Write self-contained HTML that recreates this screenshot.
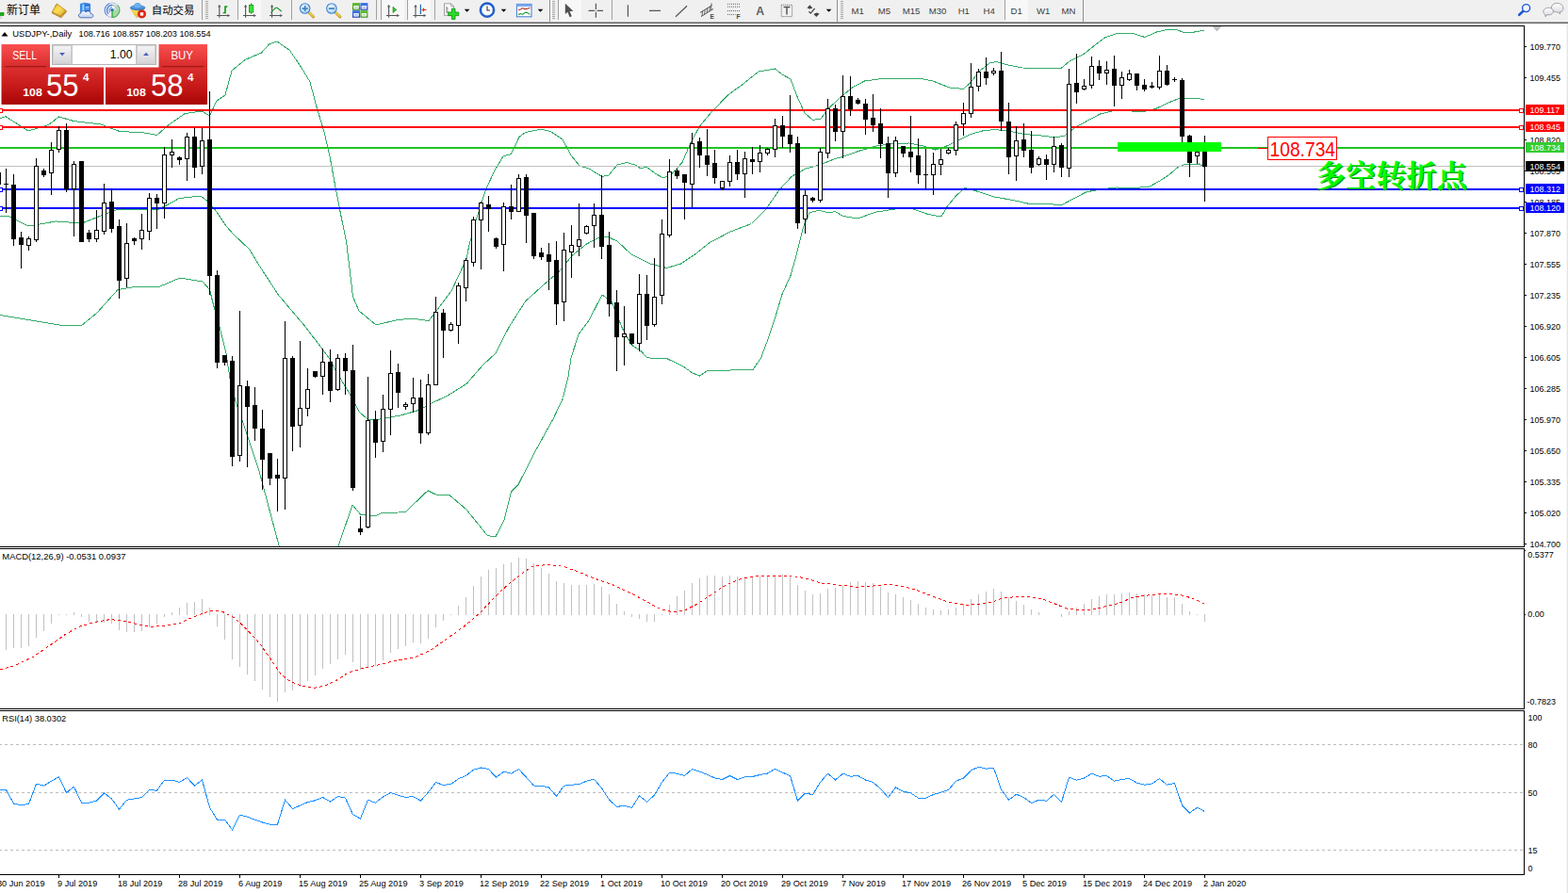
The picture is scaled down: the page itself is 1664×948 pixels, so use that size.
<!DOCTYPE html>
<html><head><meta charset="utf-8"><title>USDJPY Daily</title>
<style>
html,body{margin:0;padding:0;background:#fff;}
body{width:1664px;height:948px;overflow:hidden;position:relative;font-family:"Liberation Sans", sans-serif;}
svg{position:absolute;left:0;top:0;display:block;}
text{font-family:"Liberation Sans", sans-serif;}
.ax{font-size:9.4px;fill:#000;}
.lb{font-size:9.4px;fill:#fff;}
.tf{font-size:9.6px;fill:#3c3c3c;}
</style></head><body>
<svg width="1664" height="948" viewBox="0 0 1664 948">
<defs>
<linearGradient id="gbtn" x1="0" y1="0" x2="0" y2="1"><stop offset="0" stop-color="#fb5050"/><stop offset="1" stop-color="#d62a2a"/></linearGradient>
<linearGradient id="gpan" x1="0" y1="0" x2="0" y2="1"><stop offset="0" stop-color="#dc3030"/><stop offset="0.55" stop-color="#c41818"/><stop offset="1" stop-color="#a80404"/></linearGradient>
<linearGradient id="gsp" x1="0" y1="0" x2="0" y2="1"><stop offset="0" stop-color="#f4f4f4"/><stop offset="1" stop-color="#d4d4d8"/></linearGradient>
<clipPath id="cmain"><rect x="0" y="28" width="1617" height="552"/></clipPath>
<pattern id="chk" width="2" height="2" patternUnits="userSpaceOnUse"><rect width="2" height="2" fill="#f0f0f0"/><rect width="1" height="1" fill="#ffffff"/><rect x="1" y="1" width="1" height="1" fill="#ffffff"/></pattern>
</defs>
<rect x="0" y="0" width="1664" height="948" fill="#fff"/>
<g clip-path="url(#cmain)">
<polyline fill="none" shape-rendering="crispEdges" stroke="#32ab6a" stroke-width="1" points="0.0,125.7 6.0,123.7 30.0,139.0 51.5,132.6 62.5,124.0 79.0,128.7 107.0,132.0 127.0,139.6 151.0,140.6 166.6,143.5 178.5,133.0 196.0,120.7 213.0,118.0 216.0,119.0 222.5,123.0 230.0,107.0 239.0,101.0 246.0,75.0 260.0,63.5 277.5,56.0 286.0,46.5 294.0,44.0 307.5,53.5 320.0,72.0 329.0,87.0 336.0,113.5 344.0,140.0 350.0,166.0 356.0,199.0 362.5,232.0 367.5,256.0 371.0,285.0 374.5,315.0 381.0,330.0 399.0,345.0 420.0,340.0 436.0,338.0 455.0,340.5 462.5,331.0 479.0,309.0 495.0,275.0 497.5,262.0 505.0,234.0 516.0,200.0 525.0,181.0 534.0,166.0 542.5,163.5 551.0,145.5 557.5,140.5 575.0,137.0 585.0,140.0 597.0,148.0 606.0,165.0 615.0,176.0 625.0,179.0 639.0,187.5 646.0,186.0 655.0,175.0 665.0,172.5 674.0,175.0 680.0,179.0 686.0,177.0 695.0,184.0 704.0,189.0 712.5,185.0 724.0,172.5 732.5,152.5 742.5,134.0 755.0,119.0 772.5,101.0 787.5,90.0 805.0,76.0 822.5,73.0 830.0,79.0 839.0,84.0 846.0,102.5 854.0,120.0 862.5,127.5 871.0,126.0 880.0,114.5 890.0,105.0 905.0,92.5 917.5,86.0 932.5,84.0 955.0,83.0 975.0,83.0 990.0,86.0 1007.5,93.0 1022.5,94.5 1030.0,87.5 1040.0,75.0 1050.0,67.0 1057.5,65.5 1070.0,69.0 1085.0,72.0 1105.0,72.5 1126.0,72.5 1135.0,65.0 1150.0,57.5 1162.5,47.5 1172.5,40.0 1185.0,35.5 1202.5,35.5 1215.0,39.5 1227.5,34.0 1240.0,31.0 1247.5,31.0 1255.0,34.0 1267.5,34.0 1278.0,32.0"/>
<polyline fill="none" shape-rendering="crispEdges" stroke="#32ab6a" stroke-width="1" points="0.0,230.0 8.0,229.0 30.0,240.0 59.5,235.0 87.0,237.0 107.0,229.0 123.0,223.0 151.0,222.0 166.6,223.0 178.5,217.0 190.0,210.6 213.0,208.0 222.0,215.0 230.0,225.0 240.0,240.0 248.0,249.0 265.0,265.0 272.0,277.0 295.0,312.5 322.5,345.0 341.0,369.0 350.0,381.0 357.5,396.0 370.0,416.0 381.0,437.0 390.0,445.0 400.0,445.5 425.0,441.0 442.5,436.0 450.0,432.5 456.0,429.0 475.0,420.0 495.0,407.5 512.5,387.5 526.0,375.0 540.0,347.5 557.5,320.0 575.0,304.0 592.5,289.0 607.5,271.0 622.5,259.0 635.0,252.5 644.0,251.0 655.0,256.0 670.0,270.0 690.0,280.0 707.5,284.5 722.5,280.0 737.5,270.0 752.5,258.0 775.0,246.0 797.5,237.5 812.5,222.5 827.5,201.0 840.0,187.5 855.0,179.0 870.0,175.0 885.0,169.0 895.0,166.0 912.5,160.0 930.0,155.0 947.5,152.5 965.0,152.0 980.0,155.0 992.5,159.0 1002.5,156.0 1015.0,150.0 1030.0,142.5 1042.5,139.0 1055.0,137.5 1070.0,139.0 1087.5,142.5 1105.0,144.0 1120.0,146.0 1130.0,144.0 1140.0,136.0 1152.5,129.0 1167.5,121.0 1180.0,118.0 1195.0,117.5 1212.5,119.0 1227.5,115.0 1240.0,109.0 1250.0,105.0 1265.0,104.0 1278.0,105.5"/>
<polyline fill="none" shape-rendering="crispEdges" stroke="#32ab6a" stroke-width="1" points="0.0,334.5 62.5,345.0 86.0,346.0 102.5,332.5 125.0,307.5 140.0,305.0 170.0,304.0 191.0,295.0 215.0,299.0 222.5,307.5 227.5,327.5 234.0,351.0 240.0,375.0 244.0,402.0 250.0,426.0 262.5,462.5 275.0,500.0 296.0,579.0 310.0,640.0 345.0,640.0 359.0,580.0 374.0,536.0 382.5,546.0 397.5,548.0 405.0,544.5 430.0,543.8 454.0,520.8 462.5,525.0 477.5,526.0 495.0,541.0 517.5,568.8 526.0,569.5 535.0,552.5 542.5,522.0 550.0,514.5 567.5,480.0 587.5,443.8 597.5,422.5 603.0,400.0 606.0,380.0 614.0,355.0 625.0,340.0 639.0,313.0 649.0,320.0 660.0,347.5 670.0,366.0 680.0,372.5 686.0,379.0 694.0,381.0 707.5,380.5 725.0,389.0 735.0,396.0 742.5,399.0 750.0,394.0 775.0,393.0 799.0,392.5 807.5,380.0 815.0,360.0 822.5,337.5 830.0,312.5 839.0,292.5 846.0,267.5 852.5,241.0 859.0,226.0 869.0,223.0 879.0,226.0 886.0,224.5 895.0,229.5 910.0,232.0 930.0,225.0 950.0,222.0 967.5,221.5 985.0,227.5 999.0,230.0 1005.0,219.5 1015.0,207.5 1024.0,199.5 1035.0,202.5 1055.0,209.0 1075.0,212.5 1095.0,217.0 1110.0,216.0 1126.0,218.0 1140.0,210.5 1152.5,204.0 1167.5,201.0 1185.0,199.0 1205.0,199.5 1220.0,198.0 1230.0,192.5 1240.0,186.0 1250.0,177.5 1257.5,174.5 1265.0,175.0 1272.5,174.0 1278.0,177.5"/>
<g shape-rendering="crispEdges">
<rect x="0" y="176" width="1617" height="1" fill="#c0c0c0"/>
<rect x="0" y="116" width="1617" height="2" fill="#ff0000"/>
<rect x="0" y="134" width="1617" height="2" fill="#ff0000"/>
<rect x="0" y="156" width="1617" height="2" fill="#22c322"/>
<rect x="0" y="200" width="1617" height="2" fill="#0000ff"/>
<rect x="0" y="220" width="1617" height="2" fill="#0000ff"/>
</g>
<g shape-rendering="crispEdges">
<rect x="-4" y="183" width="5" height="13" fill="#000"/>
<rect x="6" y="179" width="1" height="47" fill="#000"/>
<rect x="4" y="195" width="5" height="1" fill="#000"/>
<rect x="14" y="185" width="1" height="76" fill="#000"/>
<rect x="12" y="196" width="5" height="58" fill="#000"/>
<rect x="22" y="246" width="1" height="39" fill="#000"/>
<rect x="20" y="252" width="5" height="8" fill="#000"/>
<rect x="30" y="251" width="1" height="15" fill="#000"/>
<rect x="28" y="253" width="5" height="8" fill="#000"/>
<rect x="29" y="254" width="3" height="6" fill="#fff"/>
<rect x="38" y="168" width="1" height="89" fill="#000"/>
<rect x="36" y="176" width="5" height="79" fill="#000"/>
<rect x="37" y="177" width="3" height="77" fill="#fff"/>
<rect x="46" y="179" width="1" height="9" fill="#000"/>
<rect x="44" y="181" width="5" height="5" fill="#000"/>
<rect x="54" y="151" width="1" height="56" fill="#000"/>
<rect x="52" y="159" width="5" height="25" fill="#000"/>
<rect x="53" y="160" width="3" height="23" fill="#fff"/>
<rect x="62" y="134" width="1" height="28" fill="#000"/>
<rect x="60" y="138" width="5" height="21" fill="#000"/>
<rect x="61" y="139" width="3" height="19" fill="#fff"/>
<rect x="70" y="131" width="1" height="73" fill="#000"/>
<rect x="68" y="138" width="5" height="63" fill="#000"/>
<rect x="78" y="171" width="1" height="80" fill="#000"/>
<rect x="76" y="174" width="5" height="27" fill="#000"/>
<rect x="77" y="175" width="3" height="25" fill="#fff"/>
<rect x="86" y="171" width="1" height="86" fill="#000"/>
<rect x="84" y="171" width="5" height="86" fill="#000"/>
<rect x="94" y="244" width="1" height="13" fill="#000"/>
<rect x="92" y="247" width="5" height="7" fill="#000"/>
<rect x="102" y="223" width="1" height="34" fill="#000"/>
<rect x="100" y="244" width="5" height="10" fill="#000"/>
<rect x="101" y="245" width="3" height="8" fill="#fff"/>
<rect x="110" y="195" width="1" height="54" fill="#000"/>
<rect x="108" y="215" width="5" height="31" fill="#000"/>
<rect x="109" y="216" width="3" height="29" fill="#fff"/>
<rect x="118" y="200" width="1" height="47" fill="#000"/>
<rect x="116" y="214" width="5" height="29" fill="#000"/>
<rect x="126" y="233" width="1" height="84" fill="#000"/>
<rect x="124" y="240" width="5" height="58" fill="#000"/>
<rect x="134" y="237" width="1" height="68" fill="#000"/>
<rect x="132" y="258" width="5" height="38" fill="#000"/>
<rect x="133" y="259" width="3" height="36" fill="#fff"/>
<rect x="142" y="252" width="1" height="8" fill="#000"/>
<rect x="140" y="253" width="5" height="3" fill="#000"/>
<rect x="150" y="227" width="1" height="38" fill="#000"/>
<rect x="148" y="244" width="5" height="10" fill="#000"/>
<rect x="149" y="245" width="3" height="8" fill="#fff"/>
<rect x="158" y="205" width="1" height="50" fill="#000"/>
<rect x="156" y="210" width="5" height="36" fill="#000"/>
<rect x="157" y="211" width="3" height="34" fill="#fff"/>
<rect x="166" y="206" width="1" height="37" fill="#000"/>
<rect x="164" y="210" width="5" height="6" fill="#000"/>
<rect x="174" y="156" width="1" height="76" fill="#000"/>
<rect x="172" y="164" width="5" height="52" fill="#000"/>
<rect x="173" y="165" width="3" height="50" fill="#fff"/>
<rect x="182" y="148" width="1" height="30" fill="#000"/>
<rect x="180" y="161" width="5" height="4" fill="#000"/>
<rect x="181" y="162" width="3" height="2" fill="#fff"/>
<rect x="190" y="166" width="1" height="9" fill="#000"/>
<rect x="188" y="167" width="5" height="3" fill="#000"/>
<rect x="198" y="141" width="1" height="51" fill="#000"/>
<rect x="196" y="145" width="5" height="24" fill="#000"/>
<rect x="197" y="146" width="3" height="22" fill="#fff"/>
<rect x="206" y="136" width="1" height="53" fill="#000"/>
<rect x="204" y="145" width="5" height="33" fill="#000"/>
<rect x="214" y="136" width="1" height="49" fill="#000"/>
<rect x="212" y="149" width="5" height="28" fill="#000"/>
<rect x="213" y="150" width="3" height="26" fill="#fff"/>
<rect x="222" y="97" width="1" height="216" fill="#000"/>
<rect x="220" y="148" width="5" height="145" fill="#000"/>
<rect x="230" y="287" width="1" height="104" fill="#000"/>
<rect x="228" y="292" width="5" height="93" fill="#000"/>
<rect x="238" y="377" width="1" height="11" fill="#000"/>
<rect x="236" y="377" width="5" height="8" fill="#000"/>
<rect x="246" y="378" width="1" height="117" fill="#000"/>
<rect x="244" y="383" width="5" height="102" fill="#000"/>
<rect x="254" y="330" width="1" height="160" fill="#000"/>
<rect x="252" y="409" width="5" height="75" fill="#000"/>
<rect x="253" y="410" width="3" height="73" fill="#fff"/>
<rect x="262" y="404" width="1" height="92" fill="#000"/>
<rect x="260" y="410" width="5" height="22" fill="#000"/>
<rect x="270" y="411" width="1" height="57" fill="#000"/>
<rect x="268" y="430" width="5" height="25" fill="#000"/>
<rect x="278" y="435" width="1" height="85" fill="#000"/>
<rect x="276" y="455" width="5" height="33" fill="#000"/>
<rect x="286" y="481" width="1" height="34" fill="#000"/>
<rect x="284" y="481" width="5" height="27" fill="#000"/>
<rect x="294" y="487" width="1" height="56" fill="#000"/>
<rect x="292" y="504" width="5" height="4" fill="#000"/>
<rect x="302" y="341" width="1" height="200" fill="#000"/>
<rect x="300" y="380" width="5" height="128" fill="#000"/>
<rect x="301" y="381" width="3" height="126" fill="#fff"/>
<rect x="310" y="378" width="1" height="101" fill="#000"/>
<rect x="308" y="380" width="5" height="73" fill="#000"/>
<rect x="318" y="362" width="1" height="113" fill="#000"/>
<rect x="316" y="433" width="5" height="19" fill="#000"/>
<rect x="317" y="434" width="3" height="17" fill="#fff"/>
<rect x="326" y="391" width="1" height="51" fill="#000"/>
<rect x="324" y="413" width="5" height="21" fill="#000"/>
<rect x="325" y="414" width="3" height="19" fill="#fff"/>
<rect x="334" y="394" width="1" height="7" fill="#000"/>
<rect x="332" y="394" width="5" height="6" fill="#000"/>
<rect x="342" y="370" width="1" height="49" fill="#000"/>
<rect x="340" y="384" width="5" height="16" fill="#000"/>
<rect x="341" y="385" width="3" height="14" fill="#fff"/>
<rect x="350" y="371" width="1" height="56" fill="#000"/>
<rect x="348" y="384" width="5" height="31" fill="#000"/>
<rect x="358" y="376" width="1" height="39" fill="#000"/>
<rect x="356" y="380" width="5" height="34" fill="#000"/>
<rect x="357" y="381" width="3" height="32" fill="#fff"/>
<rect x="366" y="375" width="1" height="44" fill="#000"/>
<rect x="364" y="380" width="5" height="14" fill="#000"/>
<rect x="374" y="366" width="1" height="155" fill="#000"/>
<rect x="372" y="393" width="5" height="125" fill="#000"/>
<rect x="382" y="548" width="1" height="20" fill="#000"/>
<rect x="380" y="561" width="5" height="4" fill="#000"/>
<rect x="390" y="400" width="1" height="161" fill="#000"/>
<rect x="388" y="446" width="5" height="114" fill="#000"/>
<rect x="389" y="447" width="3" height="112" fill="#fff"/>
<rect x="398" y="436" width="1" height="50" fill="#000"/>
<rect x="396" y="445" width="5" height="25" fill="#000"/>
<rect x="406" y="419" width="1" height="61" fill="#000"/>
<rect x="404" y="434" width="5" height="35" fill="#000"/>
<rect x="405" y="435" width="3" height="33" fill="#fff"/>
<rect x="414" y="372" width="1" height="90" fill="#000"/>
<rect x="412" y="396" width="5" height="39" fill="#000"/>
<rect x="413" y="397" width="3" height="37" fill="#fff"/>
<rect x="422" y="386" width="1" height="47" fill="#000"/>
<rect x="420" y="395" width="5" height="22" fill="#000"/>
<rect x="430" y="427" width="1" height="8" fill="#000"/>
<rect x="428" y="429" width="5" height="3" fill="#000"/>
<rect x="429" y="430" width="3" height="1" fill="#fff"/>
<rect x="438" y="401" width="1" height="37" fill="#000"/>
<rect x="436" y="422" width="5" height="7" fill="#000"/>
<rect x="437" y="423" width="3" height="5" fill="#fff"/>
<rect x="446" y="403" width="1" height="68" fill="#000"/>
<rect x="444" y="422" width="5" height="38" fill="#000"/>
<rect x="454" y="397" width="1" height="65" fill="#000"/>
<rect x="452" y="408" width="5" height="52" fill="#000"/>
<rect x="453" y="409" width="3" height="50" fill="#fff"/>
<rect x="462" y="315" width="1" height="94" fill="#000"/>
<rect x="460" y="331" width="5" height="78" fill="#000"/>
<rect x="461" y="332" width="3" height="76" fill="#fff"/>
<rect x="470" y="328" width="1" height="52" fill="#000"/>
<rect x="468" y="332" width="5" height="19" fill="#000"/>
<rect x="478" y="342" width="1" height="10" fill="#000"/>
<rect x="476" y="344" width="5" height="7" fill="#000"/>
<rect x="477" y="345" width="3" height="5" fill="#fff"/>
<rect x="486" y="300" width="1" height="65" fill="#000"/>
<rect x="484" y="303" width="5" height="43" fill="#000"/>
<rect x="485" y="304" width="3" height="41" fill="#fff"/>
<rect x="494" y="274" width="1" height="46" fill="#000"/>
<rect x="492" y="276" width="5" height="30" fill="#000"/>
<rect x="493" y="277" width="3" height="28" fill="#fff"/>
<rect x="502" y="230" width="1" height="53" fill="#000"/>
<rect x="500" y="233" width="5" height="46" fill="#000"/>
<rect x="501" y="234" width="3" height="44" fill="#fff"/>
<rect x="510" y="214" width="1" height="72" fill="#000"/>
<rect x="508" y="215" width="5" height="19" fill="#000"/>
<rect x="509" y="216" width="3" height="17" fill="#fff"/>
<rect x="518" y="208" width="1" height="38" fill="#000"/>
<rect x="516" y="217" width="5" height="5" fill="#000"/>
<rect x="526" y="252" width="1" height="12" fill="#000"/>
<rect x="524" y="253" width="5" height="9" fill="#000"/>
<rect x="534" y="215" width="1" height="73" fill="#000"/>
<rect x="532" y="219" width="5" height="41" fill="#000"/>
<rect x="533" y="220" width="3" height="39" fill="#fff"/>
<rect x="542" y="196" width="1" height="37" fill="#000"/>
<rect x="540" y="219" width="5" height="6" fill="#000"/>
<rect x="550" y="185" width="1" height="40" fill="#000"/>
<rect x="548" y="189" width="5" height="36" fill="#000"/>
<rect x="549" y="190" width="3" height="34" fill="#fff"/>
<rect x="558" y="185" width="1" height="73" fill="#000"/>
<rect x="556" y="188" width="5" height="41" fill="#000"/>
<rect x="566" y="226" width="1" height="49" fill="#000"/>
<rect x="564" y="226" width="5" height="46" fill="#000"/>
<rect x="574" y="263" width="1" height="13" fill="#000"/>
<rect x="572" y="268" width="5" height="5" fill="#000"/>
<rect x="582" y="258" width="1" height="50" fill="#000"/>
<rect x="580" y="270" width="5" height="8" fill="#000"/>
<rect x="590" y="256" width="1" height="89" fill="#000"/>
<rect x="588" y="276" width="5" height="47" fill="#000"/>
<rect x="598" y="247" width="1" height="94" fill="#000"/>
<rect x="596" y="265" width="5" height="56" fill="#000"/>
<rect x="597" y="266" width="3" height="54" fill="#fff"/>
<rect x="606" y="239" width="1" height="56" fill="#000"/>
<rect x="604" y="260" width="5" height="8" fill="#000"/>
<rect x="605" y="261" width="3" height="6" fill="#fff"/>
<rect x="614" y="216" width="1" height="56" fill="#000"/>
<rect x="612" y="254" width="5" height="8" fill="#000"/>
<rect x="613" y="255" width="3" height="6" fill="#fff"/>
<rect x="622" y="239" width="1" height="10" fill="#000"/>
<rect x="620" y="240" width="5" height="8" fill="#000"/>
<rect x="621" y="241" width="3" height="6" fill="#fff"/>
<rect x="630" y="216" width="1" height="47" fill="#000"/>
<rect x="628" y="228" width="5" height="12" fill="#000"/>
<rect x="629" y="229" width="3" height="10" fill="#fff"/>
<rect x="638" y="186" width="1" height="89" fill="#000"/>
<rect x="636" y="228" width="5" height="34" fill="#000"/>
<rect x="646" y="246" width="1" height="90" fill="#000"/>
<rect x="644" y="260" width="5" height="63" fill="#000"/>
<rect x="654" y="308" width="1" height="86" fill="#000"/>
<rect x="652" y="321" width="5" height="37" fill="#000"/>
<rect x="662" y="325" width="1" height="63" fill="#000"/>
<rect x="660" y="354" width="5" height="4" fill="#000"/>
<rect x="661" y="355" width="3" height="2" fill="#fff"/>
<rect x="670" y="354" width="1" height="12" fill="#000"/>
<rect x="668" y="354" width="5" height="11" fill="#000"/>
<rect x="678" y="291" width="1" height="82" fill="#000"/>
<rect x="676" y="312" width="5" height="53" fill="#000"/>
<rect x="677" y="313" width="3" height="51" fill="#fff"/>
<rect x="686" y="292" width="1" height="69" fill="#000"/>
<rect x="684" y="312" width="5" height="34" fill="#000"/>
<rect x="694" y="274" width="1" height="73" fill="#000"/>
<rect x="692" y="315" width="5" height="30" fill="#000"/>
<rect x="693" y="316" width="3" height="28" fill="#fff"/>
<rect x="702" y="233" width="1" height="90" fill="#000"/>
<rect x="700" y="248" width="5" height="66" fill="#000"/>
<rect x="701" y="249" width="3" height="64" fill="#fff"/>
<rect x="710" y="169" width="1" height="83" fill="#000"/>
<rect x="708" y="182" width="5" height="68" fill="#000"/>
<rect x="709" y="183" width="3" height="66" fill="#fff"/>
<rect x="718" y="179" width="1" height="11" fill="#000"/>
<rect x="716" y="181" width="5" height="6" fill="#000"/>
<rect x="726" y="185" width="1" height="48" fill="#000"/>
<rect x="724" y="185" width="5" height="9" fill="#000"/>
<rect x="734" y="141" width="1" height="79" fill="#000"/>
<rect x="732" y="152" width="5" height="44" fill="#000"/>
<rect x="733" y="153" width="3" height="42" fill="#fff"/>
<rect x="742" y="146" width="1" height="32" fill="#000"/>
<rect x="740" y="150" width="5" height="15" fill="#000"/>
<rect x="750" y="137" width="1" height="50" fill="#000"/>
<rect x="748" y="165" width="5" height="10" fill="#000"/>
<rect x="758" y="159" width="1" height="36" fill="#000"/>
<rect x="756" y="173" width="5" height="16" fill="#000"/>
<rect x="766" y="192" width="1" height="10" fill="#000"/>
<rect x="764" y="192" width="5" height="8" fill="#000"/>
<rect x="765" y="193" width="3" height="6" fill="#fff"/>
<rect x="774" y="165" width="1" height="33" fill="#000"/>
<rect x="772" y="172" width="5" height="21" fill="#000"/>
<rect x="773" y="173" width="3" height="19" fill="#fff"/>
<rect x="782" y="159" width="1" height="32" fill="#000"/>
<rect x="780" y="172" width="5" height="13" fill="#000"/>
<rect x="790" y="161" width="1" height="49" fill="#000"/>
<rect x="788" y="168" width="5" height="17" fill="#000"/>
<rect x="789" y="169" width="3" height="15" fill="#fff"/>
<rect x="798" y="156" width="1" height="29" fill="#000"/>
<rect x="796" y="169" width="5" height="3" fill="#000"/>
<rect x="806" y="154" width="1" height="29" fill="#000"/>
<rect x="804" y="162" width="5" height="10" fill="#000"/>
<rect x="805" y="163" width="3" height="8" fill="#fff"/>
<rect x="814" y="157" width="1" height="8" fill="#000"/>
<rect x="812" y="158" width="5" height="5" fill="#000"/>
<rect x="813" y="159" width="3" height="3" fill="#fff"/>
<rect x="822" y="126" width="1" height="41" fill="#000"/>
<rect x="820" y="133" width="5" height="26" fill="#000"/>
<rect x="821" y="134" width="3" height="24" fill="#fff"/>
<rect x="830" y="123" width="1" height="34" fill="#000"/>
<rect x="828" y="133" width="5" height="12" fill="#000"/>
<rect x="838" y="101" width="1" height="61" fill="#000"/>
<rect x="836" y="143" width="5" height="10" fill="#000"/>
<rect x="846" y="145" width="1" height="98" fill="#000"/>
<rect x="844" y="152" width="5" height="85" fill="#000"/>
<rect x="854" y="201" width="1" height="47" fill="#000"/>
<rect x="852" y="207" width="5" height="26" fill="#000"/>
<rect x="853" y="208" width="3" height="24" fill="#fff"/>
<rect x="862" y="209" width="1" height="6" fill="#000"/>
<rect x="860" y="210" width="5" height="3" fill="#000"/>
<rect x="870" y="157" width="1" height="58" fill="#000"/>
<rect x="868" y="161" width="5" height="52" fill="#000"/>
<rect x="869" y="162" width="3" height="50" fill="#fff"/>
<rect x="878" y="105" width="1" height="63" fill="#000"/>
<rect x="876" y="115" width="5" height="48" fill="#000"/>
<rect x="877" y="116" width="3" height="46" fill="#fff"/>
<rect x="886" y="111" width="1" height="39" fill="#000"/>
<rect x="884" y="115" width="5" height="25" fill="#000"/>
<rect x="894" y="80" width="1" height="88" fill="#000"/>
<rect x="892" y="102" width="5" height="38" fill="#000"/>
<rect x="893" y="103" width="3" height="36" fill="#fff"/>
<rect x="902" y="81" width="1" height="42" fill="#000"/>
<rect x="900" y="102" width="5" height="14" fill="#000"/>
<rect x="910" y="104" width="1" height="7" fill="#000"/>
<rect x="908" y="106" width="5" height="4" fill="#000"/>
<rect x="918" y="105" width="1" height="38" fill="#000"/>
<rect x="916" y="110" width="5" height="17" fill="#000"/>
<rect x="926" y="100" width="1" height="40" fill="#000"/>
<rect x="924" y="125" width="5" height="8" fill="#000"/>
<rect x="934" y="115" width="1" height="53" fill="#000"/>
<rect x="932" y="131" width="5" height="22" fill="#000"/>
<rect x="942" y="145" width="1" height="65" fill="#000"/>
<rect x="940" y="152" width="5" height="32" fill="#000"/>
<rect x="950" y="145" width="1" height="43" fill="#000"/>
<rect x="948" y="149" width="5" height="35" fill="#000"/>
<rect x="949" y="150" width="3" height="33" fill="#fff"/>
<rect x="958" y="155" width="1" height="12" fill="#000"/>
<rect x="956" y="155" width="5" height="8" fill="#000"/>
<rect x="966" y="123" width="1" height="60" fill="#000"/>
<rect x="964" y="161" width="5" height="6" fill="#000"/>
<rect x="974" y="147" width="1" height="48" fill="#000"/>
<rect x="972" y="165" width="5" height="21" fill="#000"/>
<rect x="982" y="158" width="1" height="42" fill="#000"/>
<rect x="980" y="185" width="5" height="1" fill="#000"/>
<rect x="990" y="162" width="1" height="45" fill="#000"/>
<rect x="988" y="174" width="5" height="12" fill="#000"/>
<rect x="989" y="175" width="3" height="10" fill="#fff"/>
<rect x="998" y="158" width="1" height="28" fill="#000"/>
<rect x="996" y="169" width="5" height="6" fill="#000"/>
<rect x="997" y="170" width="3" height="4" fill="#fff"/>
<rect x="1006" y="157" width="1" height="7" fill="#000"/>
<rect x="1004" y="159" width="5" height="4" fill="#000"/>
<rect x="1005" y="160" width="3" height="2" fill="#fff"/>
<rect x="1014" y="129" width="1" height="36" fill="#000"/>
<rect x="1012" y="132" width="5" height="28" fill="#000"/>
<rect x="1013" y="133" width="3" height="26" fill="#fff"/>
<rect x="1022" y="109" width="1" height="35" fill="#000"/>
<rect x="1020" y="120" width="5" height="12" fill="#000"/>
<rect x="1021" y="121" width="3" height="10" fill="#fff"/>
<rect x="1030" y="67" width="1" height="58" fill="#000"/>
<rect x="1028" y="92" width="5" height="29" fill="#000"/>
<rect x="1029" y="93" width="3" height="27" fill="#fff"/>
<rect x="1038" y="73" width="1" height="24" fill="#000"/>
<rect x="1036" y="76" width="5" height="16" fill="#000"/>
<rect x="1037" y="77" width="3" height="14" fill="#fff"/>
<rect x="1046" y="61" width="1" height="29" fill="#000"/>
<rect x="1044" y="76" width="5" height="7" fill="#000"/>
<rect x="1054" y="72" width="1" height="8" fill="#000"/>
<rect x="1052" y="75" width="5" height="3" fill="#000"/>
<rect x="1053" y="76" width="3" height="1" fill="#fff"/>
<rect x="1062" y="55" width="1" height="84" fill="#000"/>
<rect x="1060" y="75" width="5" height="54" fill="#000"/>
<rect x="1070" y="109" width="1" height="76" fill="#000"/>
<rect x="1068" y="129" width="5" height="38" fill="#000"/>
<rect x="1078" y="134" width="1" height="58" fill="#000"/>
<rect x="1076" y="149" width="5" height="17" fill="#000"/>
<rect x="1077" y="150" width="3" height="15" fill="#fff"/>
<rect x="1086" y="131" width="1" height="36" fill="#000"/>
<rect x="1084" y="148" width="5" height="12" fill="#000"/>
<rect x="1094" y="139" width="1" height="45" fill="#000"/>
<rect x="1092" y="159" width="5" height="19" fill="#000"/>
<rect x="1102" y="166" width="1" height="10" fill="#000"/>
<rect x="1100" y="168" width="5" height="7" fill="#000"/>
<rect x="1101" y="169" width="3" height="5" fill="#fff"/>
<rect x="1110" y="164" width="1" height="27" fill="#000"/>
<rect x="1108" y="169" width="5" height="6" fill="#000"/>
<rect x="1118" y="145" width="1" height="38" fill="#000"/>
<rect x="1116" y="155" width="5" height="20" fill="#000"/>
<rect x="1117" y="156" width="3" height="18" fill="#fff"/>
<rect x="1126" y="152" width="1" height="36" fill="#000"/>
<rect x="1124" y="154" width="5" height="24" fill="#000"/>
<rect x="1134" y="73" width="1" height="115" fill="#000"/>
<rect x="1132" y="89" width="5" height="90" fill="#000"/>
<rect x="1133" y="90" width="3" height="88" fill="#fff"/>
<rect x="1142" y="57" width="1" height="53" fill="#000"/>
<rect x="1140" y="88" width="5" height="10" fill="#000"/>
<rect x="1150" y="84" width="1" height="12" fill="#000"/>
<rect x="1148" y="91" width="5" height="4" fill="#000"/>
<rect x="1149" y="92" width="3" height="2" fill="#fff"/>
<rect x="1158" y="60" width="1" height="34" fill="#000"/>
<rect x="1156" y="70" width="5" height="21" fill="#000"/>
<rect x="1157" y="71" width="3" height="19" fill="#fff"/>
<rect x="1166" y="64" width="1" height="21" fill="#000"/>
<rect x="1164" y="70" width="5" height="8" fill="#000"/>
<rect x="1174" y="65" width="1" height="25" fill="#000"/>
<rect x="1172" y="74" width="5" height="4" fill="#000"/>
<rect x="1173" y="75" width="3" height="2" fill="#fff"/>
<rect x="1182" y="59" width="1" height="54" fill="#000"/>
<rect x="1180" y="73" width="5" height="18" fill="#000"/>
<rect x="1190" y="76" width="1" height="29" fill="#000"/>
<rect x="1188" y="82" width="5" height="9" fill="#000"/>
<rect x="1189" y="83" width="3" height="7" fill="#fff"/>
<rect x="1198" y="74" width="1" height="12" fill="#000"/>
<rect x="1196" y="78" width="5" height="7" fill="#000"/>
<rect x="1197" y="79" width="3" height="5" fill="#fff"/>
<rect x="1206" y="78" width="1" height="18" fill="#000"/>
<rect x="1204" y="78" width="5" height="13" fill="#000"/>
<rect x="1214" y="84" width="1" height="13" fill="#000"/>
<rect x="1212" y="90" width="5" height="5" fill="#000"/>
<rect x="1222" y="87" width="1" height="7" fill="#000"/>
<rect x="1220" y="91" width="5" height="2" fill="#000"/>
<rect x="1230" y="59" width="1" height="36" fill="#000"/>
<rect x="1228" y="75" width="5" height="18" fill="#000"/>
<rect x="1229" y="76" width="3" height="16" fill="#fff"/>
<rect x="1238" y="69" width="1" height="22" fill="#000"/>
<rect x="1236" y="75" width="5" height="15" fill="#000"/>
<rect x="1246" y="82" width="1" height="5" fill="#000"/>
<rect x="1244" y="84" width="5" height="1" fill="#000"/>
<rect x="1254" y="83" width="1" height="69" fill="#000"/>
<rect x="1252" y="85" width="5" height="60" fill="#000"/>
<rect x="1262" y="143" width="1" height="45" fill="#000"/>
<rect x="1260" y="144" width="5" height="29" fill="#000"/>
<rect x="1270" y="160" width="1" height="14" fill="#000"/>
<rect x="1268" y="161" width="5" height="5" fill="#000"/>
<rect x="1269" y="162" width="3" height="3" fill="#fff"/>
<rect x="1278" y="144" width="1" height="70" fill="#000"/>
<rect x="1276" y="159" width="5" height="18" fill="#000"/>
<rect x="1186" y="151" width="110" height="10" fill="#00ff00"/>
</g>
</g>
<g shape-rendering="crispEdges">
<rect x="-2" y="115" width="5" height="5" fill="#ff0000"/>
<rect x="-1" y="116" width="3" height="3" fill="#fff"/>
<rect x="1612" y="115" width="5" height="5" fill="#ff0000"/>
<rect x="1613" y="116" width="3" height="3" fill="#fff"/>
<rect x="-2" y="133" width="5" height="5" fill="#ff0000"/>
<rect x="-1" y="134" width="3" height="3" fill="#fff"/>
<rect x="1612" y="133" width="5" height="5" fill="#ff0000"/>
<rect x="1613" y="134" width="3" height="3" fill="#fff"/>
<rect x="-2" y="199" width="5" height="5" fill="#0000ff"/>
<rect x="-1" y="200" width="3" height="3" fill="#fff"/>
<rect x="1612" y="199" width="5" height="5" fill="#0000ff"/>
<rect x="1613" y="200" width="3" height="3" fill="#fff"/>
<rect x="-2" y="219" width="5" height="5" fill="#0000ff"/>
<rect x="-1" y="220" width="3" height="3" fill="#fff"/>
<rect x="1612" y="219" width="5" height="5" fill="#0000ff"/>
<rect x="1613" y="220" width="3" height="3" fill="#fff"/>
</g>
<path d="M1286.6 28 L1296.4 28 L1291.5 33.6 Z" fill="#c0c0c0"/>
<g shape-rendering="crispEdges"><rect x="1335" y="157" width="11" height="1" fill="#ff0000"/>
<rect x="1345.5" y="145.5" width="73" height="24" fill="#fff" stroke="#ff0000" stroke-width="1"/></g>
<text x="1347.6" y="165.6" font-size="21.4" fill="#ff0000" textLength="69.4" lengthAdjust="spacingAndGlyphs">108.734</text>
<text x="1396" y="198" font-size="32" font-weight="bold" fill="#0a9a0a" textLength="161" lengthAdjust="spacingAndGlyphs" transform="translate(1.2,1.2)" style="font-family:'Liberation Serif','Noto Serif CJK SC',serif;">多空转折点</text>
<text x="1396" y="198" font-size="32" font-weight="bold" fill="#00ff00" textLength="161" lengthAdjust="spacingAndGlyphs" style="font-family:'Liberation Serif','Noto Serif CJK SC',serif;">多空转折点</text>
<g shape-rendering="crispEdges">
<rect x="6" y="652" width="1" height="38" fill="#c0c0c0"/>
<rect x="14" y="652" width="1" height="36" fill="#c0c0c0"/>
<rect x="22" y="652" width="1" height="36" fill="#c0c0c0"/>
<rect x="30" y="652" width="1" height="34" fill="#c0c0c0"/>
<rect x="38" y="652" width="1" height="25" fill="#c0c0c0"/>
<rect x="46" y="652" width="1" height="18" fill="#c0c0c0"/>
<rect x="54" y="652" width="1" height="10" fill="#c0c0c0"/>
<rect x="62" y="652" width="1" height="1" fill="#c0c0c0"/>
<rect x="70" y="652" width="1" height="1" fill="#c0c0c0"/>
<rect x="78" y="650" width="1" height="3" fill="#c0c0c0"/>
<rect x="86" y="652" width="1" height="3" fill="#c0c0c0"/>
<rect x="94" y="652" width="1" height="8" fill="#c0c0c0"/>
<rect x="102" y="652" width="1" height="9" fill="#c0c0c0"/>
<rect x="110" y="652" width="1" height="9" fill="#c0c0c0"/>
<rect x="118" y="652" width="1" height="10" fill="#c0c0c0"/>
<rect x="126" y="652" width="1" height="17" fill="#c0c0c0"/>
<rect x="134" y="652" width="1" height="19" fill="#c0c0c0"/>
<rect x="142" y="652" width="1" height="19" fill="#c0c0c0"/>
<rect x="150" y="652" width="1" height="18" fill="#c0c0c0"/>
<rect x="158" y="652" width="1" height="14" fill="#c0c0c0"/>
<rect x="166" y="652" width="1" height="10" fill="#c0c0c0"/>
<rect x="174" y="652" width="1" height="3" fill="#c0c0c0"/>
<rect x="182" y="650" width="1" height="3" fill="#c0c0c0"/>
<rect x="190" y="645" width="1" height="8" fill="#c0c0c0"/>
<rect x="198" y="640" width="1" height="13" fill="#c0c0c0"/>
<rect x="206" y="639" width="1" height="14" fill="#c0c0c0"/>
<rect x="214" y="636" width="1" height="17" fill="#c0c0c0"/>
<rect x="222" y="645" width="1" height="8" fill="#c0c0c0"/>
<rect x="230" y="652" width="1" height="13" fill="#c0c0c0"/>
<rect x="238" y="652" width="1" height="27" fill="#c0c0c0"/>
<rect x="246" y="652" width="1" height="48" fill="#c0c0c0"/>
<rect x="254" y="652" width="1" height="56" fill="#c0c0c0"/>
<rect x="262" y="652" width="1" height="64" fill="#c0c0c0"/>
<rect x="270" y="652" width="1" height="71" fill="#c0c0c0"/>
<rect x="278" y="652" width="1" height="80" fill="#c0c0c0"/>
<rect x="286" y="652" width="1" height="88" fill="#c0c0c0"/>
<rect x="294" y="652" width="1" height="93" fill="#c0c0c0"/>
<rect x="302" y="652" width="1" height="83" fill="#c0c0c0"/>
<rect x="310" y="652" width="1" height="81" fill="#c0c0c0"/>
<rect x="318" y="652" width="1" height="77" fill="#c0c0c0"/>
<rect x="326" y="652" width="1" height="71" fill="#c0c0c0"/>
<rect x="334" y="652" width="1" height="65" fill="#c0c0c0"/>
<rect x="342" y="652" width="1" height="58" fill="#c0c0c0"/>
<rect x="350" y="652" width="1" height="53" fill="#c0c0c0"/>
<rect x="358" y="652" width="1" height="48" fill="#c0c0c0"/>
<rect x="366" y="652" width="1" height="43" fill="#c0c0c0"/>
<rect x="374" y="652" width="1" height="51" fill="#c0c0c0"/>
<rect x="382" y="652" width="1" height="59" fill="#c0c0c0"/>
<rect x="390" y="652" width="1" height="57" fill="#c0c0c0"/>
<rect x="398" y="652" width="1" height="55" fill="#c0c0c0"/>
<rect x="406" y="652" width="1" height="49" fill="#c0c0c0"/>
<rect x="414" y="652" width="1" height="41" fill="#c0c0c0"/>
<rect x="422" y="652" width="1" height="37" fill="#c0c0c0"/>
<rect x="430" y="652" width="1" height="34" fill="#c0c0c0"/>
<rect x="438" y="652" width="1" height="30" fill="#c0c0c0"/>
<rect x="446" y="652" width="1" height="31" fill="#c0c0c0"/>
<rect x="454" y="652" width="1" height="26" fill="#c0c0c0"/>
<rect x="462" y="652" width="1" height="14" fill="#c0c0c0"/>
<rect x="470" y="652" width="1" height="7" fill="#c0c0c0"/>
<rect x="478" y="652" width="1" height="1" fill="#c0c0c0"/>
<rect x="486" y="643" width="1" height="10" fill="#c0c0c0"/>
<rect x="494" y="634" width="1" height="19" fill="#c0c0c0"/>
<rect x="502" y="622" width="1" height="31" fill="#c0c0c0"/>
<rect x="510" y="612" width="1" height="41" fill="#c0c0c0"/>
<rect x="518" y="605" width="1" height="48" fill="#c0c0c0"/>
<rect x="526" y="603" width="1" height="50" fill="#c0c0c0"/>
<rect x="534" y="599" width="1" height="54" fill="#c0c0c0"/>
<rect x="542" y="597" width="1" height="56" fill="#c0c0c0"/>
<rect x="550" y="592" width="1" height="61" fill="#c0c0c0"/>
<rect x="558" y="593" width="1" height="60" fill="#c0c0c0"/>
<rect x="566" y="598" width="1" height="55" fill="#c0c0c0"/>
<rect x="574" y="603" width="1" height="50" fill="#c0c0c0"/>
<rect x="582" y="609" width="1" height="44" fill="#c0c0c0"/>
<rect x="590" y="617" width="1" height="36" fill="#c0c0c0"/>
<rect x="598" y="619" width="1" height="34" fill="#c0c0c0"/>
<rect x="606" y="621" width="1" height="32" fill="#c0c0c0"/>
<rect x="614" y="621" width="1" height="32" fill="#c0c0c0"/>
<rect x="622" y="621" width="1" height="32" fill="#c0c0c0"/>
<rect x="630" y="620" width="1" height="33" fill="#c0c0c0"/>
<rect x="638" y="623" width="1" height="30" fill="#c0c0c0"/>
<rect x="646" y="631" width="1" height="22" fill="#c0c0c0"/>
<rect x="654" y="641" width="1" height="12" fill="#c0c0c0"/>
<rect x="662" y="649" width="1" height="4" fill="#c0c0c0"/>
<rect x="670" y="652" width="1" height="3" fill="#c0c0c0"/>
<rect x="678" y="652" width="1" height="5" fill="#c0c0c0"/>
<rect x="686" y="652" width="1" height="8" fill="#c0c0c0"/>
<rect x="694" y="652" width="1" height="8" fill="#c0c0c0"/>
<rect x="702" y="652" width="1" height="1" fill="#c0c0c0"/>
<rect x="710" y="642" width="1" height="11" fill="#c0c0c0"/>
<rect x="718" y="633" width="1" height="20" fill="#c0c0c0"/>
<rect x="726" y="627" width="1" height="26" fill="#c0c0c0"/>
<rect x="734" y="619" width="1" height="34" fill="#c0c0c0"/>
<rect x="742" y="614" width="1" height="39" fill="#c0c0c0"/>
<rect x="750" y="611" width="1" height="42" fill="#c0c0c0"/>
<rect x="758" y="611" width="1" height="42" fill="#c0c0c0"/>
<rect x="766" y="612" width="1" height="41" fill="#c0c0c0"/>
<rect x="774" y="611" width="1" height="42" fill="#c0c0c0"/>
<rect x="782" y="612" width="1" height="41" fill="#c0c0c0"/>
<rect x="790" y="612" width="1" height="41" fill="#c0c0c0"/>
<rect x="798" y="612" width="1" height="41" fill="#c0c0c0"/>
<rect x="806" y="612" width="1" height="41" fill="#c0c0c0"/>
<rect x="814" y="611" width="1" height="42" fill="#c0c0c0"/>
<rect x="822" y="610" width="1" height="43" fill="#c0c0c0"/>
<rect x="830" y="610" width="1" height="43" fill="#c0c0c0"/>
<rect x="838" y="611" width="1" height="42" fill="#c0c0c0"/>
<rect x="846" y="621" width="1" height="32" fill="#c0c0c0"/>
<rect x="854" y="627" width="1" height="26" fill="#c0c0c0"/>
<rect x="862" y="631" width="1" height="22" fill="#c0c0c0"/>
<rect x="870" y="630" width="1" height="23" fill="#c0c0c0"/>
<rect x="878" y="625" width="1" height="28" fill="#c0c0c0"/>
<rect x="886" y="624" width="1" height="29" fill="#c0c0c0"/>
<rect x="894" y="621" width="1" height="32" fill="#c0c0c0"/>
<rect x="902" y="618" width="1" height="35" fill="#c0c0c0"/>
<rect x="910" y="617" width="1" height="36" fill="#c0c0c0"/>
<rect x="918" y="618" width="1" height="35" fill="#c0c0c0"/>
<rect x="926" y="619" width="1" height="34" fill="#c0c0c0"/>
<rect x="934" y="623" width="1" height="30" fill="#c0c0c0"/>
<rect x="942" y="629" width="1" height="24" fill="#c0c0c0"/>
<rect x="950" y="631" width="1" height="22" fill="#c0c0c0"/>
<rect x="958" y="634" width="1" height="19" fill="#c0c0c0"/>
<rect x="966" y="637" width="1" height="16" fill="#c0c0c0"/>
<rect x="974" y="641" width="1" height="12" fill="#c0c0c0"/>
<rect x="982" y="645" width="1" height="8" fill="#c0c0c0"/>
<rect x="990" y="647" width="1" height="6" fill="#c0c0c0"/>
<rect x="998" y="648" width="1" height="5" fill="#c0c0c0"/>
<rect x="1006" y="647" width="1" height="6" fill="#c0c0c0"/>
<rect x="1014" y="645" width="1" height="8" fill="#c0c0c0"/>
<rect x="1022" y="641" width="1" height="12" fill="#c0c0c0"/>
<rect x="1030" y="636" width="1" height="17" fill="#c0c0c0"/>
<rect x="1038" y="631" width="1" height="22" fill="#c0c0c0"/>
<rect x="1046" y="628" width="1" height="25" fill="#c0c0c0"/>
<rect x="1054" y="625" width="1" height="28" fill="#c0c0c0"/>
<rect x="1062" y="628" width="1" height="25" fill="#c0c0c0"/>
<rect x="1070" y="634" width="1" height="19" fill="#c0c0c0"/>
<rect x="1078" y="638" width="1" height="15" fill="#c0c0c0"/>
<rect x="1086" y="642" width="1" height="11" fill="#c0c0c0"/>
<rect x="1094" y="647" width="1" height="6" fill="#c0c0c0"/>
<rect x="1102" y="650" width="1" height="3" fill="#c0c0c0"/>
<rect x="1126" y="652" width="1" height="3" fill="#c0c0c0"/>
<rect x="1134" y="649" width="1" height="4" fill="#c0c0c0"/>
<rect x="1142" y="645" width="1" height="8" fill="#c0c0c0"/>
<rect x="1150" y="641" width="1" height="12" fill="#c0c0c0"/>
<rect x="1158" y="636" width="1" height="17" fill="#c0c0c0"/>
<rect x="1166" y="633" width="1" height="20" fill="#c0c0c0"/>
<rect x="1174" y="631" width="1" height="22" fill="#c0c0c0"/>
<rect x="1182" y="631" width="1" height="22" fill="#c0c0c0"/>
<rect x="1190" y="630" width="1" height="23" fill="#c0c0c0"/>
<rect x="1198" y="629" width="1" height="24" fill="#c0c0c0"/>
<rect x="1206" y="630" width="1" height="23" fill="#c0c0c0"/>
<rect x="1214" y="631" width="1" height="22" fill="#c0c0c0"/>
<rect x="1222" y="632" width="1" height="21" fill="#c0c0c0"/>
<rect x="1230" y="631" width="1" height="22" fill="#c0c0c0"/>
<rect x="1238" y="634" width="1" height="19" fill="#c0c0c0"/>
<rect x="1246" y="634" width="1" height="19" fill="#c0c0c0"/>
<rect x="1254" y="641" width="1" height="12" fill="#c0c0c0"/>
<rect x="1262" y="649" width="1" height="4" fill="#c0c0c0"/>
<rect x="1270" y="652" width="1" height="1" fill="#c0c0c0"/>
<rect x="1278" y="652" width="1" height="8" fill="#c0c0c0"/>
</g>
<polyline fill="none" shape-rendering="crispEdges" stroke="#ff0000" stroke-width="1" stroke-dasharray="3 3" points="0.0,711.0 15.0,706.8 35.0,697.5 52.5,685.5 70.0,673.0 85.0,665.0 100.0,660.5 117.5,657.5 132.5,659.5 150.0,663.8 160.0,665.5 175.0,664.2 190.0,661.8 205.0,655.0 220.0,649.5 227.5,648.0 237.5,650.0 250.0,656.8 262.5,668.8 275.0,682.5 287.5,700.0 297.5,715.0 307.5,723.0 320.0,728.2 332.5,730.5 345.0,728.0 357.5,722.0 370.0,713.8 385.0,709.5 400.0,706.2 420.0,701.2 440.0,698.0 457.5,690.0 475.0,677.5 492.5,665.0 510.0,650.0 527.5,631.2 540.0,620.0 552.5,610.0 565.0,601.2 580.0,599.5 597.5,601.2 615.0,607.5 630.0,613.8 650.0,620.8 670.0,630.0 685.0,638.0 700.0,646.2 712.5,649.5 725.0,648.8 740.0,641.2 755.0,631.2 770.0,621.2 785.0,615.0 800.0,612.0 816.0,611.2 840.0,611.2 857.5,614.5 870.0,618.8 887.5,620.8 910.0,623.2 927.5,622.0 942.5,620.5 955.0,621.8 970.0,625.5 985.0,631.2 1005.0,638.8 1025.0,642.5 1040.0,641.2 1052.5,639.2 1062.5,635.5 1077.5,633.5 1092.5,633.5 1105.0,635.5 1120.0,641.2 1132.5,646.2 1145.0,647.5 1160.0,647.0 1172.5,643.8 1187.5,640.5 1200.0,635.0 1212.5,632.7 1230.0,630.5 1242.5,630.5 1257.5,632.5 1267.5,636.2 1278.0,640.8"/>
<g shape-rendering="crispEdges">
<line x1="0" y1="790.5" x2="1617" y2="790.5" stroke="#bcbcbc" stroke-width="1" stroke-dasharray="3 3" stroke-dashoffset="1"/>
<line x1="0" y1="841.5" x2="1617" y2="841.5" stroke="#bcbcbc" stroke-width="1" stroke-dasharray="3 3" stroke-dashoffset="1"/>
<line x1="0" y1="902.5" x2="1617" y2="902.5" stroke="#bcbcbc" stroke-width="1" stroke-dasharray="3 3" stroke-dashoffset="1"/>
</g>
<polyline fill="none" shape-rendering="crispEdges" stroke="#1e90ff" stroke-width="1" points="-2.0,838.5 6.5,838.5 14.5,853.0 22.5,854.8 30.5,853.5 38.5,832.2 46.5,834.2 54.5,829.2 62.5,824.8 70.5,841.5 78.5,835.2 86.5,852.2 94.5,852.2 102.5,850.2 110.5,841.8 118.5,848.0 126.5,859.2 134.5,849.2 142.5,848.0 150.5,846.5 158.5,838.5 166.5,839.2 174.5,828.0 182.5,828.0 190.5,830.5 198.5,825.5 206.5,834.2 214.5,828.0 222.5,857.2 230.5,870.2 238.5,870.2 246.5,881.0 254.5,865.2 262.5,867.2 270.5,870.2 278.5,873.0 286.5,875.2 294.5,875.2 302.5,849.2 310.5,858.5 318.5,855.2 326.5,851.5 334.5,849.8 342.5,846.5 350.5,851.0 358.5,845.5 366.5,847.2 374.5,864.8 382.5,869.0 390.5,849.2 398.5,852.2 406.5,846.0 414.5,841.5 422.5,844.2 430.5,846.5 438.5,845.5 446.5,850.2 454.5,841.0 462.5,830.5 470.5,833.5 478.5,832.5 486.5,826.8 494.5,823.5 502.5,817.2 510.5,815.0 518.5,816.5 526.5,825.2 534.5,819.2 542.5,821.2 550.5,816.5 558.5,825.2 566.5,834.0 574.5,834.2 582.5,836.0 590.5,845.2 598.5,834.2 606.5,833.2 614.5,832.5 622.5,829.2 630.5,827.2 638.5,836.8 646.5,849.0 654.5,856.5 662.5,855.2 670.5,857.5 678.5,844.8 686.5,851.2 694.5,844.2 702.5,830.5 710.5,820.2 718.5,821.2 726.5,823.5 734.5,816.5 742.5,819.2 750.5,822.2 758.5,826.0 766.5,827.5 774.5,823.5 782.5,827.5 790.5,824.8 798.5,824.5 806.5,822.5 814.5,821.0 822.5,816.2 830.5,820.2 838.5,823.5 846.5,850.2 854.5,842.2 862.5,843.5 870.5,830.5 878.5,821.2 886.5,828.0 894.5,821.2 902.5,824.2 910.5,823.5 918.5,828.0 926.5,830.5 934.5,837.2 942.5,846.5 950.5,836.0 958.5,840.2 966.5,841.8 974.5,847.2 982.5,847.2 990.5,843.5 998.5,841.2 1006.5,838.5 1014.5,829.2 1022.5,826.0 1030.5,817.8 1038.5,814.2 1046.5,816.2 1054.5,815.2 1062.5,838.0 1070.5,849.2 1078.5,843.2 1086.5,846.5 1094.5,852.5 1102.5,849.2 1110.5,850.2 1118.5,843.5 1126.5,851.5 1134.5,825.2 1142.5,828.2 1150.5,826.0 1158.5,821.2 1166.5,824.2 1174.5,823.5 1182.5,829.2 1190.5,827.5 1198.5,826.5 1206.5,831.2 1214.5,833.2 1222.5,832.0 1230.5,826.5 1238.5,833.2 1246.5,831.5 1254.5,854.8 1262.5,863.0 1270.5,857.2 1278.5,861.5"/>
<g shape-rendering="crispEdges" fill="#000">
<rect x="0" y="27" width="1618" height="1"/>
<rect x="1617" y="27" width="1" height="554"/>
<rect x="0" y="580" width="1618" height="1"/>
<rect x="0" y="582" width="1618" height="1"/>
<rect x="1617" y="582" width="1" height="171"/>
<rect x="0" y="752" width="1618" height="1"/>
<rect x="0" y="754" width="1618" height="1"/>
<rect x="1617" y="754" width="1" height="175"/>
<rect x="0" y="928" width="1618" height="1"/>
<rect x="1618" y="49" width="2" height="1"/>
<rect x="1618" y="82" width="2" height="1"/>
<rect x="1618" y="148" width="2" height="1"/>
<rect x="1618" y="181" width="2" height="1"/>
<rect x="1618" y="214" width="2" height="1"/>
<rect x="1618" y="247" width="2" height="1"/>
<rect x="1618" y="280" width="2" height="1"/>
<rect x="1618" y="313" width="2" height="1"/>
<rect x="1618" y="346" width="2" height="1"/>
<rect x="1618" y="379" width="2" height="1"/>
<rect x="1618" y="412" width="2" height="1"/>
<rect x="1618" y="445" width="2" height="1"/>
<rect x="1618" y="478" width="2" height="1"/>
<rect x="1618" y="511" width="2" height="1"/>
<rect x="1618" y="544" width="2" height="1"/>
<rect x="1618" y="577" width="2" height="1"/>
<rect x="1618" y="584" width="1" height="1"/>
<rect x="1618" y="652" width="1" height="1"/>
<rect x="62" y="929" width="1" height="3"/>
<rect x="126" y="929" width="1" height="3"/>
<rect x="190" y="929" width="1" height="3"/>
<rect x="254" y="929" width="1" height="3"/>
<rect x="318" y="929" width="1" height="3"/>
<rect x="382" y="929" width="1" height="3"/>
<rect x="446" y="929" width="1" height="3"/>
<rect x="510" y="929" width="1" height="3"/>
<rect x="574" y="929" width="1" height="3"/>
<rect x="638" y="929" width="1" height="3"/>
<rect x="702" y="929" width="1" height="3"/>
<rect x="766" y="929" width="1" height="3"/>
<rect x="830" y="929" width="1" height="3"/>
<rect x="894" y="929" width="1" height="3"/>
<rect x="958" y="929" width="1" height="3"/>
<rect x="1022" y="929" width="1" height="3"/>
<rect x="1086" y="929" width="1" height="3"/>
<rect x="1150" y="929" width="1" height="3"/>
<rect x="1214" y="929" width="1" height="3"/>
<rect x="1278" y="929" width="1" height="3"/>
</g>
<text class="ax" x="1623.5" y="52.6" textLength="32.5" lengthAdjust="spacingAndGlyphs">109.770</text>
<text class="ax" x="1623.5" y="85.6" textLength="32.5" lengthAdjust="spacingAndGlyphs">109.455</text>
<text class="ax" x="1623.5" y="151.6" textLength="32.5" lengthAdjust="spacingAndGlyphs">108.820</text>
<text class="ax" x="1623.5" y="184.6" textLength="32.5" lengthAdjust="spacingAndGlyphs">108.505</text>
<text class="ax" x="1623.5" y="217.6" textLength="32.5" lengthAdjust="spacingAndGlyphs">108.185</text>
<text class="ax" x="1623.5" y="250.6" textLength="32.5" lengthAdjust="spacingAndGlyphs">107.870</text>
<text class="ax" x="1623.5" y="283.6" textLength="32.5" lengthAdjust="spacingAndGlyphs">107.555</text>
<text class="ax" x="1623.5" y="316.6" textLength="32.5" lengthAdjust="spacingAndGlyphs">107.235</text>
<text class="ax" x="1623.5" y="349.6" textLength="32.5" lengthAdjust="spacingAndGlyphs">106.920</text>
<text class="ax" x="1623.5" y="382.6" textLength="32.5" lengthAdjust="spacingAndGlyphs">106.605</text>
<text class="ax" x="1623.5" y="415.6" textLength="32.5" lengthAdjust="spacingAndGlyphs">106.285</text>
<text class="ax" x="1623.5" y="448.6" textLength="32.5" lengthAdjust="spacingAndGlyphs">105.970</text>
<text class="ax" x="1623.5" y="481.6" textLength="32.5" lengthAdjust="spacingAndGlyphs">105.650</text>
<text class="ax" x="1623.5" y="514.6" textLength="32.5" lengthAdjust="spacingAndGlyphs">105.335</text>
<text class="ax" x="1623.5" y="547.6" textLength="32.5" lengthAdjust="spacingAndGlyphs">105.020</text>
<text class="ax" x="1623.5" y="580.6" textLength="32.5" lengthAdjust="spacingAndGlyphs">104.700</text>
<text class="ax" x="1621.3" y="592.1" textLength="27.5" lengthAdjust="spacingAndGlyphs">0.5377</text>
<text class="ax" x="1621.3" y="655.0" textLength="17.5" lengthAdjust="spacingAndGlyphs">0.00</text>
<text class="ax" x="1620.5" y="748.2" textLength="30.4" lengthAdjust="spacingAndGlyphs">-0.7823</text>
<text class="ax" x="1621.5" y="764.9" textLength="15.0" lengthAdjust="spacingAndGlyphs">100</text>
<text class="ax" x="1621.5" y="793.9" textLength="10.0" lengthAdjust="spacingAndGlyphs">80</text>
<text class="ax" x="1621.5" y="844.9" textLength="10.0" lengthAdjust="spacingAndGlyphs">50</text>
<text class="ax" x="1621.5" y="905.9" textLength="10.0" lengthAdjust="spacingAndGlyphs">15</text>
<text class="ax" x="1621.5" y="924.9" textLength="5.0" lengthAdjust="spacingAndGlyphs">0</text>
<g shape-rendering="crispEdges">
<rect x="1619" y="111" width="41" height="11" fill="#ff0000"/>
<rect x="1619" y="129" width="41" height="11" fill="#ff0000"/>
<rect x="1619" y="151" width="41" height="11" fill="#32cd32"/>
<rect x="1619" y="171" width="41" height="11" fill="#000000"/>
<rect x="1619" y="195" width="41" height="11" fill="#0000ff"/>
<rect x="1619" y="215" width="41" height="11" fill="#0000ff"/>
</g>
<text class="lb" x="1623.5" y="120.1" textLength="31.8" lengthAdjust="spacingAndGlyphs">109.117</text>
<text class="lb" x="1623.5" y="138.1" textLength="32.5" lengthAdjust="spacingAndGlyphs">108.945</text>
<text class="lb" x="1623.5" y="160.1" textLength="32.5" lengthAdjust="spacingAndGlyphs">108.734</text>
<text class="lb" x="1623.5" y="180.1" textLength="32.5" lengthAdjust="spacingAndGlyphs">108.554</text>
<text class="lb" x="1623.5" y="204.1" textLength="32.5" lengthAdjust="spacingAndGlyphs">108.312</text>
<text class="lb" x="1623.5" y="224.1" textLength="32.5" lengthAdjust="spacingAndGlyphs">108.120</text>
<text class="ax" x="-3.0" y="940.8" textLength="50.5" lengthAdjust="spacingAndGlyphs">30 Jun 2019</text>
<text class="ax" x="61.0" y="940.8" textLength="42.3" lengthAdjust="spacingAndGlyphs">9 Jul 2019</text>
<text class="ax" x="125.0" y="940.8" textLength="47.4" lengthAdjust="spacingAndGlyphs">18 Jul 2019</text>
<text class="ax" x="189.0" y="940.8" textLength="47.4" lengthAdjust="spacingAndGlyphs">28 Jul 2019</text>
<text class="ax" x="253.0" y="940.8" textLength="46.4" lengthAdjust="spacingAndGlyphs">6 Aug 2019</text>
<text class="ax" x="317.0" y="940.8" textLength="51.5" lengthAdjust="spacingAndGlyphs">15 Aug 2019</text>
<text class="ax" x="381.0" y="940.8" textLength="51.5" lengthAdjust="spacingAndGlyphs">25 Aug 2019</text>
<text class="ax" x="445.0" y="940.8" textLength="46.9" lengthAdjust="spacingAndGlyphs">3 Sep 2019</text>
<text class="ax" x="509.0" y="940.8" textLength="52.0" lengthAdjust="spacingAndGlyphs">12 Sep 2019</text>
<text class="ax" x="573.0" y="940.8" textLength="52.0" lengthAdjust="spacingAndGlyphs">22 Sep 2019</text>
<text class="ax" x="637.0" y="940.8" textLength="44.8" lengthAdjust="spacingAndGlyphs">1 Oct 2019</text>
<text class="ax" x="701.0" y="940.8" textLength="49.9" lengthAdjust="spacingAndGlyphs">10 Oct 2019</text>
<text class="ax" x="765.0" y="940.8" textLength="49.9" lengthAdjust="spacingAndGlyphs">20 Oct 2019</text>
<text class="ax" x="829.0" y="940.8" textLength="49.9" lengthAdjust="spacingAndGlyphs">29 Oct 2019</text>
<text class="ax" x="893.0" y="940.8" textLength="46.9" lengthAdjust="spacingAndGlyphs">7 Nov 2019</text>
<text class="ax" x="957.0" y="940.8" textLength="52.0" lengthAdjust="spacingAndGlyphs">17 Nov 2019</text>
<text class="ax" x="1021.0" y="940.8" textLength="52.0" lengthAdjust="spacingAndGlyphs">26 Nov 2019</text>
<text class="ax" x="1085.0" y="940.8" textLength="46.9" lengthAdjust="spacingAndGlyphs">5 Dec 2019</text>
<text class="ax" x="1149.0" y="940.8" textLength="52.0" lengthAdjust="spacingAndGlyphs">15 Dec 2019</text>
<text class="ax" x="1213.0" y="940.8" textLength="52.0" lengthAdjust="spacingAndGlyphs">24 Dec 2019</text>
<text class="ax" x="1277.0" y="940.8" textLength="45.4" lengthAdjust="spacingAndGlyphs">2 Jan 2020</text>
<text class="ax" x="2.3" y="594.3" textLength="131.2" lengthAdjust="spacingAndGlyphs">MACD(12,26,9) -0.0531 0.0937</text>
<text class="ax" x="2.3" y="766.3" textLength="67.9" lengthAdjust="spacingAndGlyphs">RSI(14) 38.0302</text>
<path d="M1.5 38.5 L8.5 38.5 L5 34 Z" fill="#000"/>
<text class="ax" x="13.3" y="38.6" textLength="63" lengthAdjust="spacingAndGlyphs">USDJPY-,Daily</text>
<text class="ax" x="83.6" y="38.6" textLength="140" lengthAdjust="spacingAndGlyphs">108.716 108.857 108.203 108.554</text>
<g>
<rect x="1.5" y="47" width="51.5" height="25" fill="url(#gbtn)"/>
<rect x="168.5" y="47" width="51.5" height="25" fill="url(#gbtn)"/>
<rect x="1.5" y="71.5" width="108.5" height="39.5" fill="url(#gpan)"/>
<rect x="112" y="71.5" width="108" height="39.5" fill="url(#gpan)"/>
<rect x="5" y="70.3" width="44" height="0.9" fill="#8a1010"/>
<rect x="172" y="70.3" width="44" height="0.9" fill="#8a1010"/>
<rect x="55.5" y="47.5" width="110" height="21" fill="#fff" stroke="#b4b4b4" stroke-width="1"/>
<rect x="56.5" y="48.5" width="19" height="19" fill="url(#gsp)" stroke="#c8c8c8" stroke-width="0.8"/>
<rect x="145.5" y="48.5" width="19" height="19" fill="url(#gsp)" stroke="#c8c8c8" stroke-width="0.8"/>
<rect x="76.2" y="48" width="0.8" height="20" fill="#b8b8b8"/><rect x="144.2" y="48" width="0.8" height="20" fill="#b8b8b8"/>
<path d="M63 56 L69 56 L66 59.2 Z" fill="#4a5cc0"/>
<path d="M152 59 L158 59 L155 55.8 Z" fill="#4a5cc0"/>
<text x="140.6" y="61.9" font-size="12.2" fill="#000" text-anchor="end">1.00</text>
<text x="13.3" y="62.8" font-size="12" fill="#fff" textLength="25.8" lengthAdjust="spacingAndGlyphs">SELL</text>
<text x="181.4" y="62.8" font-size="12" fill="#fff" textLength="23.6" lengthAdjust="spacingAndGlyphs">BUY</text>
<text x="24.2" y="102" font-size="11.6" font-weight="bold" fill="#fff" textLength="20.6" lengthAdjust="spacingAndGlyphs">108</text>
<text x="49" y="102" font-size="33" fill="#fff" textLength="34.5" lengthAdjust="spacingAndGlyphs">55</text>
<text x="88" y="86" font-size="11.6" font-weight="bold" fill="#fff">4</text>
<text x="134.2" y="102" font-size="11.6" font-weight="bold" fill="#fff" textLength="20.6" lengthAdjust="spacingAndGlyphs">108</text>
<text x="160" y="102" font-size="33" fill="#fff" textLength="34.5" lengthAdjust="spacingAndGlyphs">58</text>
<text x="199" y="86" font-size="11.6" font-weight="bold" fill="#fff">4</text>
</g>
<g id="toolbar">
<rect x="0" y="0" width="1664" height="22" fill="#f0f0f0"/>
<g shape-rendering="crispEdges">
<rect x="0" y="22" width="1664" height="1" fill="#f5f5f5"/>
<rect x="0" y="23" width="1664" height="1" fill="#a0a0a0"/>
<rect x="0" y="24" width="1664" height="1" fill="#696969"/>
<rect x="1663" y="25" width="1" height="923" fill="#e4e4e4"/>
<rect x="1662" y="25" width="1" height="923" fill="#f6f6f6"/>
<rect x="253" y="0" width="24" height="22" fill="url(#chk)"/>
<rect x="405" y="0" width="24" height="22" fill="url(#chk)"/>
<rect x="433" y="0" width="24" height="22" fill="url(#chk)"/>
<rect x="593" y="0" width="24" height="22" fill="url(#chk)"/>
<rect x="1067" y="0" width="24" height="22" fill="url(#chk)"/>
<rect x="214" y="0" width="1" height="21" fill="#a0a0a0"/>
<rect x="252" y="0" width="1" height="21" fill="#a0a0a0"/>
<rect x="309" y="0" width="1" height="21" fill="#a0a0a0"/>
<rect x="399" y="0" width="1" height="21" fill="#a0a0a0"/>
<rect x="404" y="0" width="1" height="21" fill="#a0a0a0"/>
<rect x="432" y="0" width="1" height="21" fill="#a0a0a0"/>
<rect x="461" y="0" width="1" height="21" fill="#a0a0a0"/>
<rect x="592" y="0" width="1" height="21" fill="#a0a0a0"/>
<rect x="649" y="0" width="1" height="21" fill="#a0a0a0"/>
<rect x="1066" y="0" width="1" height="21" fill="#a0a0a0"/>
<rect x="583" y="0" width="1" height="23" fill="#8c8c8c"/>
<rect x="584" y="0" width="1" height="23" fill="#fafafa"/>
<rect x="888" y="0" width="1" height="23" fill="#8c8c8c"/>
<rect x="889" y="0" width="1" height="23" fill="#fafafa"/>
<rect x="1149" y="0" width="1" height="23" fill="#8c8c8c"/>
<rect x="1150" y="0" width="1" height="23" fill="#fafafa"/>
<rect x="218" y="1" width="3" height="1" fill="#a8a8a8"/>
<rect x="218" y="3" width="3" height="1" fill="#a8a8a8"/>
<rect x="218" y="5" width="3" height="1" fill="#a8a8a8"/>
<rect x="218" y="7" width="3" height="1" fill="#a8a8a8"/>
<rect x="218" y="9" width="3" height="1" fill="#a8a8a8"/>
<rect x="218" y="11" width="3" height="1" fill="#a8a8a8"/>
<rect x="218" y="13" width="3" height="1" fill="#a8a8a8"/>
<rect x="218" y="15" width="3" height="1" fill="#a8a8a8"/>
<rect x="218" y="17" width="3" height="1" fill="#a8a8a8"/>
<rect x="218" y="19" width="3" height="1" fill="#a8a8a8"/>
<rect x="586" y="1" width="3" height="1" fill="#a8a8a8"/>
<rect x="586" y="3" width="3" height="1" fill="#a8a8a8"/>
<rect x="586" y="5" width="3" height="1" fill="#a8a8a8"/>
<rect x="586" y="7" width="3" height="1" fill="#a8a8a8"/>
<rect x="586" y="9" width="3" height="1" fill="#a8a8a8"/>
<rect x="586" y="11" width="3" height="1" fill="#a8a8a8"/>
<rect x="586" y="13" width="3" height="1" fill="#a8a8a8"/>
<rect x="586" y="15" width="3" height="1" fill="#a8a8a8"/>
<rect x="586" y="17" width="3" height="1" fill="#a8a8a8"/>
<rect x="586" y="19" width="3" height="1" fill="#a8a8a8"/>
<rect x="892" y="1" width="3" height="1" fill="#a8a8a8"/>
<rect x="892" y="3" width="3" height="1" fill="#a8a8a8"/>
<rect x="892" y="5" width="3" height="1" fill="#a8a8a8"/>
<rect x="892" y="7" width="3" height="1" fill="#a8a8a8"/>
<rect x="892" y="9" width="3" height="1" fill="#a8a8a8"/>
<rect x="892" y="11" width="3" height="1" fill="#a8a8a8"/>
<rect x="892" y="13" width="3" height="1" fill="#a8a8a8"/>
<rect x="892" y="15" width="3" height="1" fill="#a8a8a8"/>
<rect x="892" y="17" width="3" height="1" fill="#a8a8a8"/>
<rect x="892" y="19" width="3" height="1" fill="#a8a8a8"/>
</g>
<defs>
<linearGradient id="ggold" x1="0" y1="0" x2="1" y2="1"><stop offset="0" stop-color="#d8a020"/><stop offset="0.45" stop-color="#fbd648"/><stop offset="1" stop-color="#b87810"/></linearGradient>
<linearGradient id="gcloud" x1="0" y1="0" x2="0" y2="1"><stop offset="0" stop-color="#ffffff"/><stop offset="1" stop-color="#b8cdf0"/></linearGradient>
<linearGradient id="gsrv" x1="0" y1="0" x2="1" y2="0"><stop offset="0" stop-color="#1e78e6"/><stop offset="1" stop-color="#8ec8ff"/></linearGradient>
<radialGradient id="glens" cx="0.4" cy="0.35" r="0.7"><stop offset="0" stop-color="#f2f9ff"/><stop offset="1" stop-color="#a8cdf2"/></radialGradient>
<linearGradient id="ggrn" x1="0" y1="0" x2="0" y2="1"><stop offset="0" stop-color="#6cc63a"/><stop offset="1" stop-color="#2f8a10"/></linearGradient>
<linearGradient id="gblu" x1="0" y1="0" x2="0" y2="1"><stop offset="0" stop-color="#4a80ee"/><stop offset="1" stop-color="#1438b4"/></linearGradient>
<linearGradient id="gbub" x1="0" y1="0" x2="0" y2="1"><stop offset="0" stop-color="#ffffff"/><stop offset="1" stop-color="#d8d8e4"/></linearGradient>
<linearGradient id="gyel" x1="0" y1="0" x2="1" y2="1"><stop offset="0" stop-color="#ffe874"/><stop offset="1" stop-color="#e8b020"/></linearGradient>
</defs>
<rect x="-2" y="13.5" width="6" height="3" fill="#10b010" stroke="#0a7a0a" stroke-width="0.6"/>
<rect x="0" y="17" width="2" height="3" fill="#c8c8c8" opacity="0.6"/>
<path d="M55.2 12.6 L64.6 17.6 L70.4 11.4 L70.6 13 L64.8 19.2 L55 14 Z" fill="#a06a0c"/>
<path d="M56 13.6 L64.7 18.4 L70.4 12.2" fill="none" stroke="#f4e2a0" stroke-width="0.5"/>
<path d="M60.4 4 L70.4 11.4 L64.6 17.6 L55.2 12.6 Z" fill="url(#ggold)" stroke="#b47c10" stroke-width="0.7"/>
<path d="M60.6 5.6 L68.6 11.4 L64.2 16 L57 12.2 Z" fill="#ffee70" opacity="0.35"/>
<path d="M60.4 4 C59 5 58.6 6.6 59.6 7.2" fill="none" stroke="#b47c10" stroke-width="0.7"/>
<path d="M85.4 4.2 L89.6 3.2 L89.6 13.4 L85.4 13.4 Z" fill="#1e96ff"/>
<path d="M89.6 3.2 L95.6 4.2 L95.6 13.4 L89.6 13.4 Z" fill="#2a7ae4"/>
<path d="M85.4 4.2 L89.6 3.2 L95.6 4.2 L95.6 13.4 L85.4 13.4 Z" fill="none" stroke="#1860d0" stroke-width="0.6"/>
<rect x="87.6" y="4.6" width="1.1" height="7" fill="#e6f6ff" opacity="0.95"/>
<rect x="90.6" y="7.2" width="4" height="0.9" fill="#eaf6ff"/><rect x="90.6" y="8.9" width="4" height="0.7" fill="#bfe0ff"/>
<path d="M86.4 18.8 C82.6 18.8 82.4 14.4 85.8 14.2 C85.6 11.4 89.8 10.6 91 13 C92.8 10.8 96.8 12.2 96.2 14.6 C99.8 14.4 99.8 18.8 96.6 18.8 Z" fill="url(#gcloud)" stroke="#4668b0" stroke-width="0.9"/>
<path d="M119 10.8 L126.8 10.8 A7.8 7.8 0 0 1 119 18.6 Z" fill="#6cc46c" opacity="0.55"/>
<path d="M119 10.8 L124.4 5.2 A7.8 7.8 0 0 1 126.8 10.8 Z" fill="#9ad09a" opacity="0.35"/>
<circle cx="119" cy="10.8" r="7.7" fill="none" stroke="#a9c2e8" stroke-width="1"/>
<path d="M113.6 16.4 A7.7 7.7 0 0 1 116 3.7" fill="none" stroke="#5a86dc" stroke-width="1.1"/>
<path d="M124.6 5.4 A7.7 7.7 0 0 1 119 18.5" fill="none" stroke="#58b058" stroke-width="1.1"/>
<path d="M115.2 14.6 A5.4 5.4 0 0 1 119 5.4" fill="none" stroke="#3c74dc" stroke-width="1.2"/>
<path d="M119 5.4 A5.4 5.4 0 0 1 124.4 10.8" fill="none" stroke="#86b4a6" stroke-width="1"/>
<path d="M116.8 13 A3.2 3.2 0 0 1 119 7.6" fill="none" stroke="#4a80e0" stroke-width="1"/>
<circle cx="119" cy="10.6" r="1.7" fill="#2a66d8"/>
<rect x="118.4" y="10.8" width="1.3" height="7.8" fill="#2aa82a"/>
<path d="M138.8 9.6 L153.2 9.6 L149.4 15 L145.2 18.8 L141.4 14 Z" fill="url(#gyel)" stroke="#d4a418" stroke-width="0.5"/>
<ellipse cx="146.1" cy="8.2" rx="8" ry="2.5" fill="#4e98e0" stroke="#2e72c4" stroke-width="0.5"/>
<path d="M141.8 7.8 C141.8 1.8 150.2 1.8 150.2 7.8 C148 9 144 9 141.8 7.8 Z" fill="#6cb0f0" stroke="#3a80d0" stroke-width="0.5"/>
<path d="M139 8.6 C142 10.8 150 10.8 153.2 8.6" fill="none" stroke="#2a68b8" stroke-width="0.7"/>
<circle cx="150.5" cy="14.9" r="4.1" fill="#e42414" stroke="#b01408" stroke-width="0.6"/>
<rect x="148.8" y="13.2" width="3.4" height="3.4" fill="#fff"/>
<path d="M232.8 18.8 L232.8 6.2 M230.2 16.5 L242.8 16.5" stroke="#555" stroke-width="1.1" fill="none"/>
<path d="M232.8 4.8 L231.2 7.6 L234.4 7.6 Z" fill="#555"/>
<path d="M244.2 16.5 L241.4 14.9 L241.4 18.1 Z" fill="#555"/>
<path d="M236.6 13.6 L239 13.6 L239 7 L241.4 7" stroke="#18a018" stroke-width="1.3" fill="none"/>
<path d="M239 6.6 L239 14.2" stroke="#18a018" stroke-width="1.3" fill="none"/>
<path d="M260.6 18.8 L260.6 6.2 M258.0 16.5 L270.6 16.5" stroke="#555" stroke-width="1.1" fill="none"/>
<path d="M260.6 4.8 L259.0 7.6 L262.2 7.6 Z" fill="#555"/>
<path d="M272.0 16.5 L269.2 14.9 L269.2 18.1 Z" fill="#555"/>
<rect x="266" y="3.4" width="1.1" height="11.2" fill="#0a9a0a"/>
<rect x="264.4" y="5.4" width="4.4" height="7.6" fill="#3ce03c" stroke="#0a9a0a" stroke-width="0.8"/>
<path d="M288.6 18.8 L288.6 6.2 M286.0 16.5 L298.6 16.5" stroke="#555" stroke-width="1.1" fill="none"/>
<path d="M288.6 4.8 L287.0 7.6 L290.2 7.6 Z" fill="#555"/>
<path d="M300.0 16.5 L297.2 14.9 L297.2 18.1 Z" fill="#555"/>
<path d="M287.4 13.6 C290 11 291.6 8 293.4 8.2 C295 8.4 297 11 298.8 12" stroke="#2a9a3a" stroke-width="1.2" fill="none"/>
<path d="M327.6 13 L332.6 17.8" stroke="#c8a020" stroke-width="3" stroke-linecap="round"/>
<path d="M327.8 13 L332.4 17.4" stroke="#f0d860" stroke-width="1.2" stroke-linecap="round"/>
<circle cx="323.6" cy="9" r="5.3" fill="url(#glens)" stroke="#3c86dc" stroke-width="1.1"/>
<rect x="320.6" y="8.2" width="6" height="1.7" fill="#3a82b4"/>
<rect x="322.8" y="6" width="1.7" height="6" fill="#3a82b4"/>
<path d="M355.9 13 L360.9 17.8" stroke="#c8a020" stroke-width="3" stroke-linecap="round"/>
<path d="M356.1 13 L360.7 17.4" stroke="#f0d860" stroke-width="1.2" stroke-linecap="round"/>
<circle cx="351.9" cy="9" r="5.3" fill="url(#glens)" stroke="#3c86dc" stroke-width="1.1"/>
<rect x="348.9" y="8.2" width="6" height="1.7" fill="#3a82b4"/>
<rect x="374.0" y="3.0" width="8" height="7.7" fill="url(#ggrn)"/>
<rect x="375.2" y="6.0" width="5.6" height="3.6" fill="#fff" opacity="0.92"/>
<rect x="376.2" y="7.4" width="3.6" height="0.8" fill="url(#ggrn)" opacity="0.7"/>
<rect x="382.4" y="3.0" width="8" height="7.7" fill="url(#gblu)"/>
<rect x="383.6" y="6.0" width="5.6" height="3.6" fill="#fff" opacity="0.92"/>
<rect x="384.6" y="7.4" width="3.6" height="0.8" fill="url(#gblu)" opacity="0.7"/>
<rect x="374.0" y="11.0" width="8" height="7.7" fill="url(#gblu)"/>
<rect x="375.2" y="14.0" width="5.6" height="3.6" fill="#fff" opacity="0.92"/>
<rect x="376.2" y="15.4" width="3.6" height="0.8" fill="url(#gblu)" opacity="0.7"/>
<rect x="382.4" y="11.0" width="8" height="7.7" fill="url(#ggrn)"/>
<rect x="383.6" y="14.0" width="5.6" height="3.6" fill="#fff" opacity="0.92"/>
<rect x="384.6" y="15.4" width="3.6" height="0.8" fill="url(#ggrn)" opacity="0.7"/>
<path d="M412.6 18.8 L412.6 6.2 M410.0 16.5 L422.6 16.5" stroke="#555" stroke-width="1.1" fill="none"/>
<path d="M412.6 4.8 L411.0 7.6 L414.2 7.6 Z" fill="#555"/>
<path d="M424.0 16.5 L421.2 14.9 L421.2 18.1 Z" fill="#555"/>
<path d="M417 7.2 L420.8 10.4 L417 13.6 Z" fill="#2ac82a" stroke="#128a12" stroke-width="0.6"/>
<path d="M441.0 18.8 L441.0 6.2 M438.4 16.5 L451.0 16.5" stroke="#555" stroke-width="1.1" fill="none"/>
<path d="M441.0 4.8 L439.4 7.6 L442.6 7.6 Z" fill="#555"/>
<path d="M452.4 16.5 L449.6 14.9 L449.6 18.1 Z" fill="#555"/>
<rect x="445.8" y="4.8" width="1.2" height="10.2" fill="#1a6ab4"/>
<path d="M447.4 10.4 L450 8.2 L450 9.8 L452.4 9.8 L452.4 11 L450 11 L450 12.6 Z" fill="#d83a10"/>
<path d="M471.5 3.8 L478.6 3.8 L481.6 6.8 L481.6 16.4 L471.5 16.4 Z" fill="#fbfbfb" stroke="#8a8a8a" stroke-width="0.8"/>
<path d="M478.6 3.8 L478.6 6.8 L481.6 6.8" fill="none" stroke="#8a8a8a" stroke-width="0.7"/>
<path d="M474 7 L474 14" stroke="#555" stroke-width="0.8"/><path d="M474 9 L476 9 M474 12 L476.4 12" stroke="#777" stroke-width="0.7"/>
<path d="M479.4 9.2 L483 9.2 L483 13 L486.8 13 L486.8 16.6 L483 16.6 L483 20.4 L479.4 20.4 L479.4 16.6 L475.6 16.6 L475.6 13 L479.4 13 Z" fill="#2adc2a" stroke="#0c8c0c" stroke-width="0.8"/>
<path d="M492.8 9.8 L498.4 9.8 L495.6 12.8 Z" fill="#000"/>
<path d="M531.7 9.8 L537.3 9.8 L534.5 12.8 Z" fill="#000"/>
<path d="M570.7 9.8 L576.3 9.8 L573.5 12.8 Z" fill="#000"/>
<path d="M876.8 9.8 L882.4 9.8 L879.6 12.8 Z" fill="#000"/>
<circle cx="517" cy="10.6" r="7" fill="#fdfdfd" stroke="#1e62d0" stroke-width="2.2"/>
<circle cx="517" cy="10.6" r="8" fill="none" stroke="#164aa8" stroke-width="0.5"/>
<path d="M517 6.6 L517 11 L520 11" stroke="#333" stroke-width="1.1" fill="none"/>
<path d="M517 4.8 L517 5.8 M517 15.4 L517 16.4 M511.2 10.6 L512.2 10.6 M521.8 10.6 L522.8 10.6" stroke="#8ab" stroke-width="0.8"/>
<rect x="548.4" y="4.4" width="15.6" height="13.4" fill="#fff" stroke="#3a78d0" stroke-width="1"/>
<rect x="548.4" y="4.4" width="15.6" height="2.6" fill="#78aaf0"/>
<path d="M550 10.4 L552.6 10 L554.4 8.6 L556.8 9.6 L559 9.4 L562.4 8.2" stroke="#b0301c" stroke-width="1.1" fill="none"/>
<path d="M550 15.4 L552.6 14.6 L554.6 15.4 L557.2 13.4 L559.4 13.2 L562.4 15.4" stroke="#1c9a3c" stroke-width="1.1" fill="none"/>
<path d="M599.8 3.8 L599.8 15 L602.4 12.8 L604.6 18.2 L606.8 17.2 L604.6 12 L608.4 11.8 Z" fill="#505050"/>
<path d="M624.6 11.3 L631 11.3 M633.8 11.3 L640 11.3 M632.4 3.8 L632.4 9.9 M632.4 12.7 L632.4 18.8" stroke="#555" stroke-width="1.2"/>
<rect x="632" y="10.9" width="0.8" height="0.8" fill="#555"/>
<path d="M666.4 5.3 L666.4 17.8 M689 11.3 L701 11.3 M717 17.8 L729 6.2" stroke="#555" stroke-width="1.2"/>
<path d="M743 13.4 L755.6 5.6 M744 17.6 L757 9.4" stroke="#555" stroke-width="1"/>
<path d="M745.6 11.8 L745 17 M748.2 10.2 L747.6 15.4 M750.8 8.6 L750.2 13.8 M753.4 7 L752.8 12.2 M755 3.4 L754.6 10.8" stroke="#555" stroke-width="0.9"/>
<text x="753.6" y="19.6" font-size="6.6" font-weight="bold" fill="#444">E</text>
<line x1="772" y1="4.3" x2="785.6" y2="4.3" stroke="#555" stroke-width="0.9" stroke-dasharray="1 1"/>
<line x1="772" y1="7.2" x2="785.6" y2="7.2" stroke="#555" stroke-width="0.9" stroke-dasharray="1 1"/>
<line x1="772" y1="11.5" x2="785.6" y2="11.5" stroke="#555" stroke-width="0.9" stroke-dasharray="1 1"/>
<line x1="772" y1="15.4" x2="780.6" y2="15.4" stroke="#555" stroke-width="0.9" stroke-dasharray="1 1"/>
<text x="781.6" y="19.8" font-size="6.6" font-weight="bold" fill="#444">F</text>
<text x="802.2" y="15.9" font-size="12" font-weight="bold" fill="#606060" textLength="8.8" lengthAdjust="spacingAndGlyphs">A</text>
<rect x="829.2" y="5.2" width="11.4" height="12.4" fill="none" stroke="#555" stroke-width="0.9" stroke-dasharray="1 1"/>
<path d="M831.6 7.6 L838.4 7.6 M835 7.6 L835 15.6" stroke="#555" stroke-width="1.5"/>
<path d="M856.4 8.4 L859.4 5.2 L862.4 8.4 L859.4 9.6 Z" fill="#444"/>
<path d="M863.4 15 L866.4 18 L869.6 14.6 L866.4 13.4 Z" fill="#444"/>
<path d="M858.4 12.2 L860.2 14.2 L864.6 9" stroke="#444" stroke-width="1.2" fill="none"/>
<path d="M1616.6 11.6 L1612.2 15.8" stroke="#1c58d0" stroke-width="2.6" stroke-linecap="round"/>
<circle cx="1619.6" cy="8.6" r="4" fill="#f4f6ff" stroke="#1c58d8" stroke-width="1.4"/>
<path d="M1652.4 3.4 C1660.6 3.4 1660.6 12.8 1655.2 12.8 L1655.8 14.8 L1653 12.8 C1644.4 13.2 1644.2 3.4 1652.4 3.4 Z" fill="url(#gbub)" stroke="#8e8e8e" stroke-width="0.8"/>
<path d="M1643.4 8.2 C1650 8.2 1650 15.8 1643.6 15.8 L1641 15.8 L1640.2 17.8 L1639.6 15.4 C1636.4 13.6 1637.4 8.2 1643.4 8.2 Z" fill="url(#gbub)" stroke="#8e8e8e" stroke-width="0.8"/>
<text class="tf" x="903.5" y="14.9">M1</text>
<text class="tf" x="931.8" y="14.9">M5</text>
<text class="tf" x="957.8" y="14.9">M15</text>
<text class="tf" x="985.7" y="14.9">M30</text>
<text class="tf" x="1016.7" y="14.9">H1</text>
<text class="tf" x="1043.5" y="14.9">H4</text>
<text class="tf" x="1072.6" y="14.9">D1</text>
<text class="tf" x="1100.0" y="14.9">W1</text>
<text class="tf" x="1126.6" y="14.9">MN</text>
<text x="7" y="14.5" font-size="12" fill="#000" textLength="36" lengthAdjust="spacingAndGlyphs" style="font-family:'Liberation Sans','Noto Sans CJK SC',sans-serif;">新订单</text>
<text x="160.8" y="14.5" font-size="11.6" fill="#000" textLength="45.6" lengthAdjust="spacingAndGlyphs" style="font-family:'Liberation Sans','Noto Sans CJK SC',sans-serif;">自动交易</text>
</g>
</svg>
</body></html>
